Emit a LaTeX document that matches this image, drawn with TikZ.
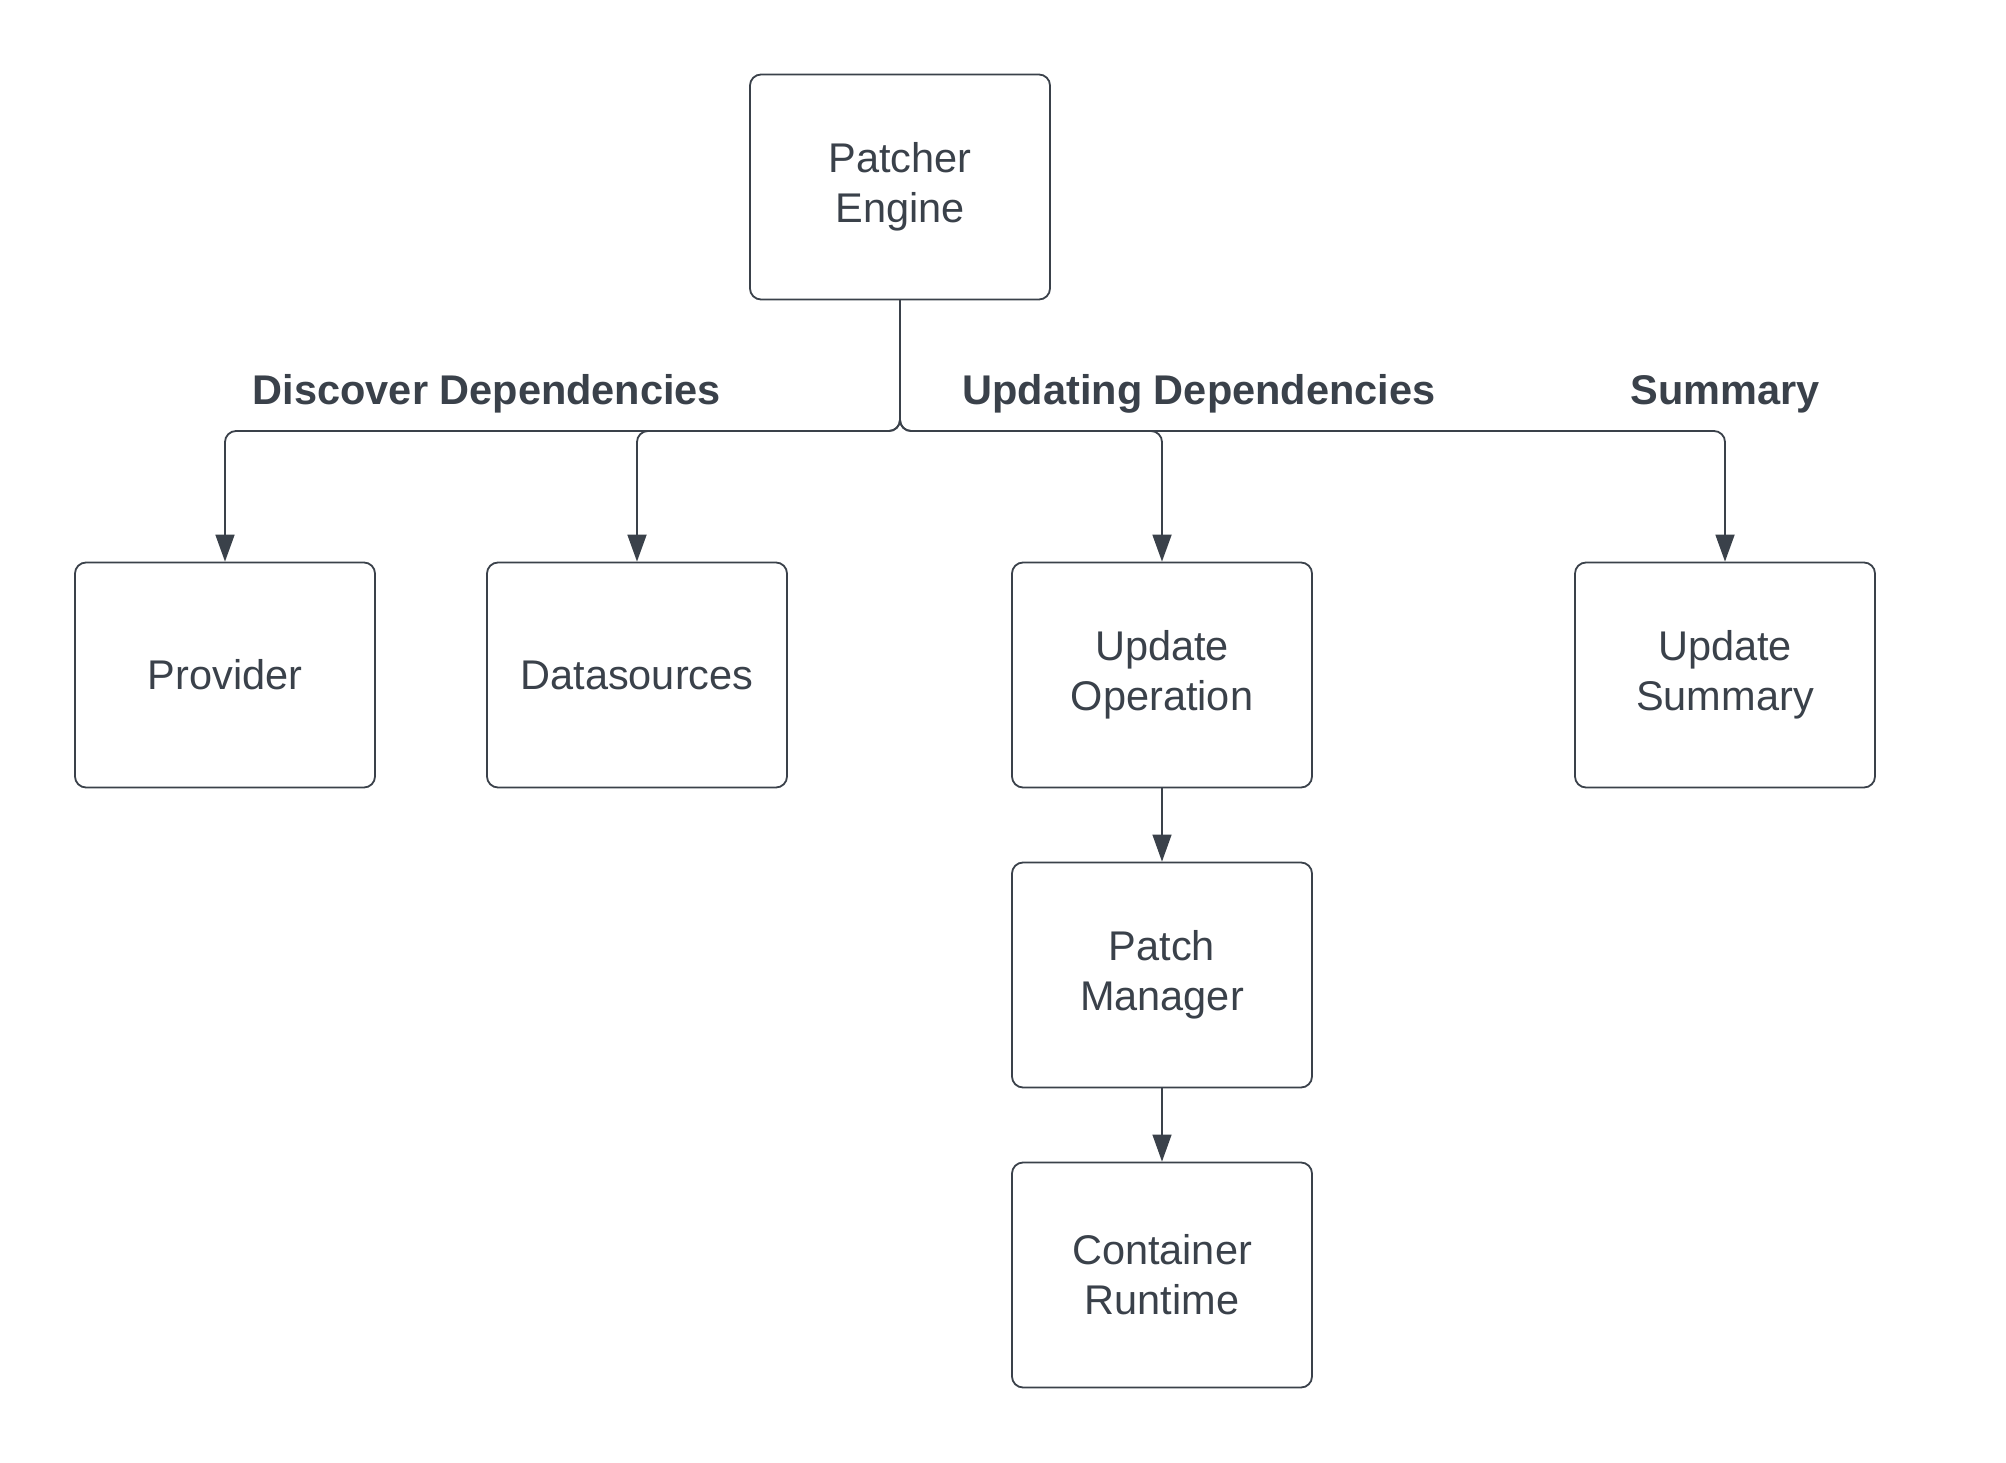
\documentclass[tikz,border=0pt]{standalone}
\usepackage{fontspec}
\setmainfont{Liberation Sans}
\usetikzlibrary{arrows.meta}
\definecolor{ink}{HTML}{3A414A}
\tikzset{
  box/.style={draw=ink, line width=1.8pt, rounded corners=11pt, minimum width=300pt, minimum height=225pt, align=center, text=ink, font=\fontsize{41.5}{50}\selectfont, inner sep=0pt},
  lab/.style={text=ink, font=\fontsize{41.5}{48}\selectfont\bfseries, inner sep=0pt},
  conn/.style={draw=ink, line width=1.8pt, rounded corners=11pt, -{Triangle[length=27pt,width=19pt]}},
  connthin/.style={draw=ink, line width=1.3pt, -{Triangle[length=27pt,width=19pt]}}
}
\begin{document}
\begin{tikzpicture}[x=1pt,y=-1pt]
\useasboundingbox (0,0) rectangle (2006,1463);
\node[box] (pe) at (900,187) {Patcher\\Engine};
\node[box] (prov) at (225,675) {Provider};
\node[box] (ds) at (637,675) {Datasources};
\node[box] (uo) at (1162,675) {Update\\Operation};
\node[box] (us) at (1725,675) {Update\\Summary};
\node[box] (pm) at (1162,975) {Patch\\Manager};
\node[box] (cr) at (1162,1275) {Container\\Runtime};
\node[lab] (l1) at (487,394) {Discover Dependencies};
\node[lab] (l2) at (1199,394) {Updating Dependencies};
\node[lab] (l3) at (1725,394) {Summary};
\coordinate (j) at (900,431);
\draw[conn] (pe.south) -- (j) -| (prov.north);
\draw[conn] (pe.south) -- (j) -| (ds.north);
\draw[conn] (pe.south) -- (j) -| (uo.north);
\draw[conn] (pe.south) -- (j) -| (us.north);
\draw[connthin] (uo.south) -- (pm.north);
\draw[connthin] (pm.south) -- (cr.north);
\end{tikzpicture}
\end{document}
